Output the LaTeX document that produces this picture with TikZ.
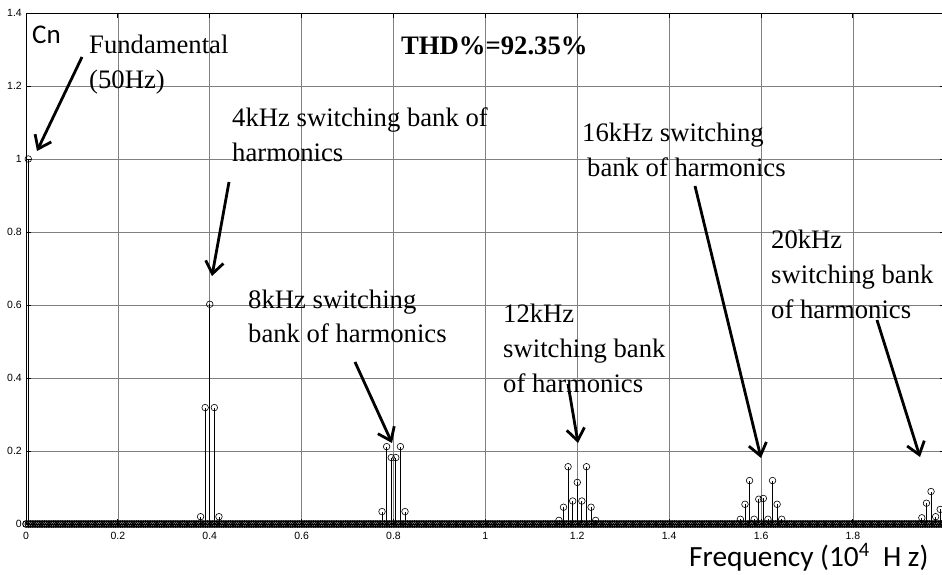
\documentclass[tikz,border=0pt]{standalone}
\usepackage{fontspec}
\setmainfont{Liberation Serif}
\newfontfamily\axisfont{Liberation Sans}
\newfontfamily\labelfont{Carlito}
\usetikzlibrary{arrows.meta}
\begin{document}
\begin{tikzpicture}[x=1pt,y=-1pt,
  gridln/.style={draw=black!50, line width=0.6pt},
  axisln/.style={draw=black, line width=0.9pt},
  stemln/.style={draw=black, line width=0.8pt},
  mk/.style={draw=black, line width=0.6pt},
  basemk/.style={draw=black, line width=1pt},
  ticklbl/.style={font=\axisfont\fontsize{10.5}{12}\selectfont, inner sep=0pt},
  annot/.style={font=\fontsize{26.67}{32}\selectfont, anchor=base west, inner sep=0pt},
  sanslbl/.style={font=\labelfont\fontsize{29.33}{34}\selectfont, anchor=base west, inner sep=0pt},
  callout/.style={draw=black, line width=2.8pt, -{Straight Barb[length=12pt, width=18pt, line width=2.8pt]}}
]
\useasboundingbox (0,0) rectangle (942,574);
\clip (0,0) rectangle (942,574);

% ---- axes, grid and spectrum (data units: x in 10^4 Hz, y = Cn) ----
\begin{scope}[shift={(26,524)}, x=459.4pt, y=365pt]
  \foreach \gx in {0.2,0.4,0.6,0.8,1.0,1.2,1.4,1.6,1.8}
    \draw[gridln] (\gx,0) -- (\gx,1.4);
  \foreach \gy in {0.2,0.4,0.6,0.8,1.0,1.2}
    \draw[gridln] (0,\gy) -- (2,\gy);

  % tick marks on all four sides
  \foreach \gx in {0.2,0.4,0.6,0.8,1.0,1.2,1.4,1.6,1.8} {
    \draw[axisln] (\gx,0) -- ++(0pt,5pt);
    \draw[axisln] (\gx,1.4) -- ++(0pt,-5pt);
  }
  \foreach \gy in {0.2,0.4,0.6,0.8,1.0,1.2} {
    \draw[axisln] (0,\gy) -- ++(5pt,0pt);
    \draw[axisln] (2,\gy) -- ++(-5pt,0pt);
  }

  % axis box
  \draw[axisln] (0,0) rectangle (2,1.4);

  % tick labels
  \foreach \gx/\t [count=\i] in {0/0,0.2/0.2,0.4/0.4,0.6/0.6,0.8/0.8,1.0/1,1.2/1.2,1.4/1.4,1.6/1.6,1.8/1.8}
    \node[ticklbl] (xl\i) at (\gx,0) [yshift=-11.5pt] {\t};
  \foreach \gy/\t [count=\i] in {0/0,0.2/0.2,0.4/0.4,0.6/0.6,0.8/0.8,1.0/1,1.2/1.2,1.4/1.4}
    \node[ticklbl, anchor=east] (yl\i) at (0,\gy) [xshift=-4pt] {\t};

  % zero-amplitude harmonics along the baseline
  \foreach \k in {0,...,400}
    \draw[basemk] (\k*0.005,0) circle[radius=3.3pt];

  % non-zero harmonics (stems with circle markers)
  \foreach \hx/\hy in {
      0.005/1.0,
      0.38/0.02, 0.39/0.319, 0.40/0.602, 0.41/0.319, 0.42/0.02,
      0.775/0.034, 0.785/0.212, 0.795/0.182, 0.805/0.182, 0.815/0.212, 0.825/0.034,
      1.16/0.01, 1.17/0.046, 1.18/0.157, 1.19/0.063, 1.20/0.114, 1.21/0.063, 1.22/0.157, 1.23/0.046, 1.24/0.01,
      1.555/0.013, 1.565/0.054, 1.575/0.119, 1.585/0.013, 1.595/0.068, 1.605/0.07, 1.615/0.013, 1.625/0.119, 1.635/0.054, 1.645/0.013,
      1.95/0.017, 1.96/0.057, 1.97/0.089, 1.98/0.02, 1.99/0.04} {
    \draw[stemln] (\hx,0) -- (\hx,\hy);
    \draw[mk] (\hx,\hy) circle[radius=3.3pt];
  }
\end{scope}

% ---- axis titles ----
\node[sanslbl, font=\labelfont\fontsize{27}{30}\selectfont] (cn) at (32,43) {Cn};
\node[sanslbl] (freq) at (689,566) {Frequency (10\textsuperscript{4}\ \ H z)};

% ---- annotations ----
\node[annot, font=\bfseries\fontsize{26.67}{32}\selectfont] (thd) at (401,54) {THD\%=92.35\%};

\node[annot] (fundA) at (89,53) {Fundamental};
\node[annot] (fundB) at (89,88) {(50Hz)};

\node[annot] (c4A) at (232,126) {4kHz switching bank of};
\node[annot] (c4B) at (232,161) {harmonics};

\node[annot] (c8A) at (248,308) {8kHz switching};
\node[annot] (c8B) at (248,342) {bank of harmonics};

\node[annot] (c12A) at (503,322) {12kHz};
\node[annot] (c12B) at (503,357) {switching bank};
\node[annot] (c12C) at (503,392) {of harmonics};

\node[annot] (c16A) at (582,141) {16kHz switching};
\node[annot] (c16B) at (587,176) {bank of harmonics};

\node[annot] (c20A) at (771,248) {20kHz};
\node[annot] (c20B) at (771,283) {switching bank};
\node[annot] (c20C) at (771,318) {of harmonics};

% ---- callout arrows ----
\coordinate (fundS) at (82,57);   \coordinate (fundT) at (37,151);
\coordinate (a4S) at (229,182);   \coordinate (a4T) at (212,276);
\coordinate (a8S) at (355,362);   \coordinate (a8T) at (392,443);
\coordinate (a12S) at (568,384);  \coordinate (a12T) at (578,443);
\coordinate (a16S) at (695,186);  \coordinate (a16T) at (761,458);
\coordinate (a20S) at (877,320);  \coordinate (a20T) at (920,457);

\draw[callout] (fundS) -- (fundT);
\draw[callout] (a4S) -- (a4T);
\draw[callout] (a8S) -- (a8T);
\draw[callout] (a12S) -- (a12T);
\draw[callout] (a16S) -- (a16T);
\draw[callout] (a20S) -- (a20T);
\end{tikzpicture}
\end{document}
